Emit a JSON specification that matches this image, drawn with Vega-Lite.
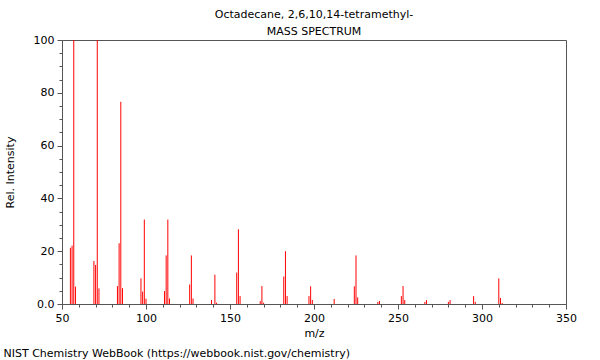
{
  "$schema": "https://vega.github.io/schema/vega-lite/v6.json",
  "width": 504,
  "height": 264,
  "autosize": {"type": "none"},
  "padding": {"left": 62, "top": 40, "right": 34, "bottom": 56},
  "background": "white",
  "config": {"font": "DejaVu Sans", "view": {"stroke": "#555", "strokeWidth": 1}},
  "title": {
    "text": "Octadecane, 2,6,10,14-tetramethyl-",
    "subtitle": "MASS SPECTRUM",
    "fontSize": 11,
    "fontWeight": "normal",
    "subtitleFontSize": 11,
    "color": "black",
    "subtitleColor": "black",
    "font": "DejaVu Sans",
    "subtitleFont": "DejaVu Sans",
    "anchor": "middle",
    "offset": -3,
    "subtitlePadding": 6
  },
  "data": {
    "values": [
      {"mz": 55, "intensity": 21.3},
      {"mz": 56, "intensity": 22.1},
      {"mz": 57, "intensity": 100},
      {"mz": 58, "intensity": 6.6},
      {"mz": 69, "intensity": 16.3},
      {"mz": 70, "intensity": 14.8},
      {"mz": 71, "intensity": 100},
      {"mz": 72, "intensity": 5.9},
      {"mz": 83, "intensity": 6.8},
      {"mz": 84, "intensity": 23},
      {"mz": 85, "intensity": 76.6},
      {"mz": 86, "intensity": 6},
      {"mz": 97, "intensity": 9.7},
      {"mz": 98, "intensity": 4.7},
      {"mz": 99, "intensity": 32},
      {"mz": 100, "intensity": 2},
      {"mz": 111, "intensity": 4.9},
      {"mz": 112, "intensity": 18.4},
      {"mz": 113, "intensity": 32},
      {"mz": 114, "intensity": 2.1},
      {"mz": 126, "intensity": 7.4},
      {"mz": 127, "intensity": 18.4},
      {"mz": 128, "intensity": 2.1},
      {"mz": 139, "intensity": 1.5},
      {"mz": 141, "intensity": 11.1},
      {"mz": 142, "intensity": 0.5},
      {"mz": 154, "intensity": 11.9},
      {"mz": 155, "intensity": 28.3},
      {"mz": 156, "intensity": 3},
      {"mz": 168, "intensity": 1.1},
      {"mz": 169, "intensity": 6.8},
      {"mz": 170, "intensity": 0.5},
      {"mz": 182, "intensity": 10.4},
      {"mz": 183, "intensity": 20},
      {"mz": 184, "intensity": 3},
      {"mz": 197, "intensity": 3},
      {"mz": 198, "intensity": 6.7},
      {"mz": 199, "intensity": 1.5},
      {"mz": 212, "intensity": 1.9},
      {"mz": 224, "intensity": 6.7},
      {"mz": 225, "intensity": 18.4},
      {"mz": 226, "intensity": 2.5},
      {"mz": 238, "intensity": 0.8},
      {"mz": 239, "intensity": 1.1},
      {"mz": 252, "intensity": 3},
      {"mz": 253, "intensity": 6.8},
      {"mz": 254, "intensity": 1.5},
      {"mz": 266, "intensity": 0.8},
      {"mz": 267, "intensity": 1.5},
      {"mz": 280, "intensity": 0.8},
      {"mz": 281, "intensity": 1.5},
      {"mz": 295, "intensity": 3},
      {"mz": 296, "intensity": 0.8},
      {"mz": 310, "intensity": 9.7},
      {"mz": 311, "intensity": 2.3},
      {"mz": 312, "intensity": 0.4}
    ]
  },
  "layer": [
    {
      "mark": {"type": "rule", "color": "red", "strokeWidth": 1},
      "encoding": {
        "x": {
          "field": "mz",
          "type": "quantitative",
          "scale": {"domain": [50, 350], "nice": false, "zero": false},
          "axis": {
            "title": "m/z",
            "values": [50, 60, 70, 80, 90, 100, 110, 120, 130, 140, 150, 160, 170, 180, 190, 200, 210, 220, 230, 240, 250, 260, 270, 280, 290, 300, 310, 320, 330, 340, 350],
            "labelExpr": "datum.value % 50 === 0 ? datum.label : ''",
            "labelOverlap": false,
            "labelFlush": false,
            "labelFontSize": 11,
            "labelColor": "black",
            "labelPadding": 3,
            "titleFontSize": 11,
            "titleFontWeight": "normal",
            "titleColor": "black",
            "titlePadding": 4,
            "grid": false,
            "domainColor": "#555",
            "tickColor": "#555",
            "tickSize": {"condition": {"test": "datum.value % 50 === 0", "value": 5}, "value": 3}
          }
        },
        "y": {
          "field": "intensity",
          "type": "quantitative",
          "scale": {"domain": [0, 100], "nice": false},
          "axis": {
            "title": "Rel. Intensity",
            "values": [0, 5, 10, 15, 20, 25, 30, 35, 40, 45, 50, 55, 60, 65, 70, 75, 80, 85, 90, 95, 100],
            "labelExpr": "datum.value === 0 ? '0.0' : (datum.value % 20 === 0 ? datum.label : '')",
            "labelOverlap": false,
            "labelFlush": false,
            "labelFontSize": 11,
            "labelColor": "black",
            "labelPadding": 3,
            "titleFontSize": 11,
            "titleFontWeight": "normal",
            "titleColor": "black",
            "titleX": -52,
            "titleBaseline": "middle",
            "grid": false,
            "domainColor": "#555",
            "tickColor": "#555",
            "tickSize": {"condition": {"test": "datum.value % 20 === 0", "value": 5}, "value": 3}
          }
        },
        "y2": {"datum": 0}
      }
    },
    {
      "mark": {"type": "point", "opacity": 0},
      "encoding": {
        "x": {
          "field": "mz",
          "type": "quantitative",
          "axis": {
            "orient": "bottom",
            "title": "NIST Chemistry WebBook (https://webbook.nist.gov/chemistry)",
            "labels": false,
            "ticks": false,
            "domain": false,
            "grid": false,
            "titleAnchor": "start",
            "titleAlign": "left",
            "titleX": -59,
            "titleY": 43,
            "titleFontSize": 11,
            "titleFontWeight": "normal",
            "titleColor": "black"
          }
        }
      }
    }
  ],
  "resolve": {"axis": {"x": "independent"}}
}
